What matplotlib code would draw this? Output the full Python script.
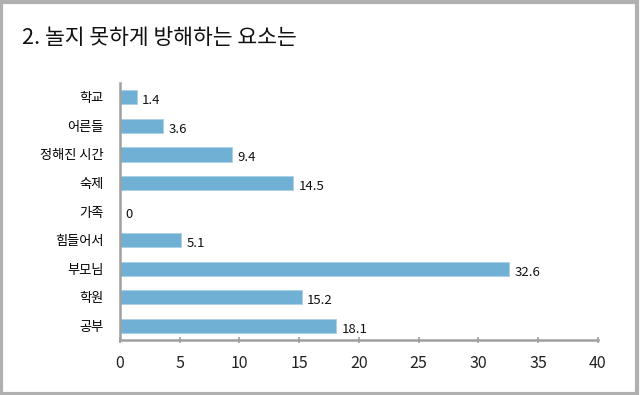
import matplotlib
matplotlib.use("Agg")
import matplotlib.pyplot as plt
from matplotlib.patches import Rectangle

plt.rcParams['font.family'] = ['Noto Sans CJK KR', 'DejaVu Sans']

categories = ['학교', '어른들', '정해진 시간', '숙제', '가족', '힘들어서', '부모님', '학원', '공부']
values = [1.4, 3.6, 9.4, 14.5, 0, 5.1, 32.6, 15.2, 18.1]
value_labels = ['1.4', '3.6', '9.4', '14.5', '0', '5.1', '32.6', '15.2', '18.1']
xticks = [0, 5, 10, 15, 20, 25, 30, 35, 40]
title = '2. 놀지 못하게 방해하는 요소는'

fig = plt.figure(figsize=(6.4, 3.95), dpi=100)
ax = fig.add_axes([0.1875, 0.139, 0.7465, 0.651])

pos = list(range(len(categories)))
ax.barh(pos, values, height=0.5, color='#70b0d4', edgecolor='#a9d0e6', linewidth=0.6)
for p, v, lab in zip(pos, values, value_labels):
    ax.text(v + 0.45, p + 0.12, lab, va='center', ha='left', fontsize=9.5, color='#111111')

ax.set_ylim(len(categories) - 0.5, -0.5)
ax.set_xlim(0, 40)
ax.set_yticks(pos)
ax.set_yticklabels(categories, fontsize=9.5)
ax.set_xticks(xticks)
ax.set_xticklabels([str(t) for t in xticks], fontsize=11.5, color='#222222')
ax.tick_params(axis='y', length=0, pad=12)
ax.tick_params(axis='x', direction='inout', length=5, width=1.2, color='#a0a0a0', pad=8)
for s in ['top', 'right']:
    ax.spines[s].set_visible(False)
for s in ['left', 'bottom']:
    ax.spines[s].set_color('#a0a0a0')
    ax.spines[s].set_linewidth(1.8)

fig.text(22/640, 1 - 38/395, title, fontsize=15.5, va='center', ha='left', color='#111111')

fig.add_artist(Rectangle((0.002, 0.003), 0.994, 0.991, transform=fig.transFigure,
                         fill=False, edgecolor='#b0b0b0', linewidth=3))

fig.savefig('out.png', dpi=100)
